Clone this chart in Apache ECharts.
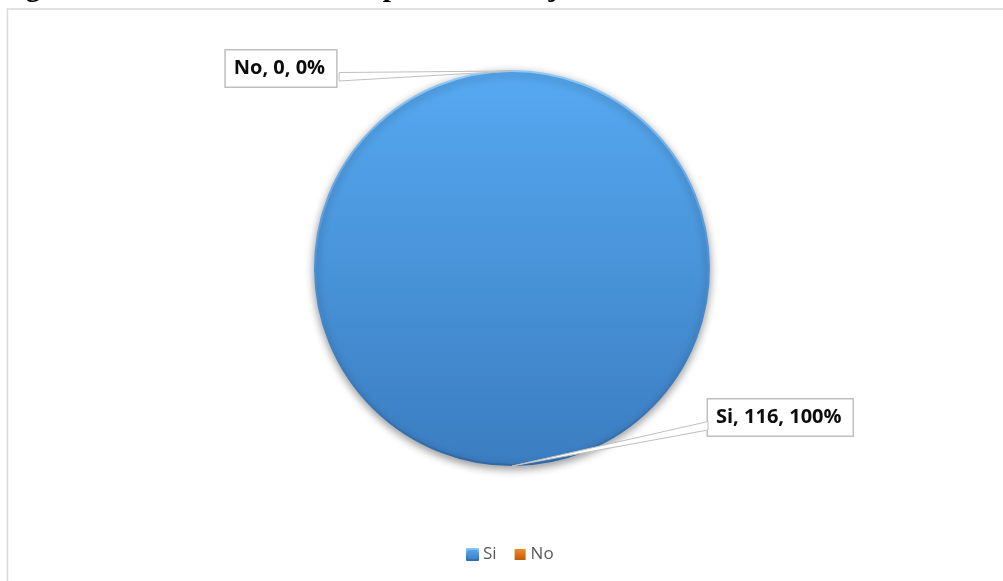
<!DOCTYPE html>
<html>
<head>
<meta charset="utf-8">
<script src="https://cdn.jsdelivr.net/npm/echarts@6/dist/echarts.min.js"></script>
<style>
  html, body { margin: 0; padding: 0; background: #ffffff; }
  #chart { width: 1003px; height: 581px; }
</style>
</head>
<body>
<div id="chart"></div>
<script>
// Caption printed above the chart frame
const captionText = 'Figura 10. Informe final de un plan de manejo de aceites lubricantes usados.';

// Answers and their counts
const categories = ['Si', 'No'];
const counts = [116, 0];

// Slice fills (top colour, bottom colour) for each category
const sliceTop = ['#56a9f1', '#f08a2c'];
const sliceBottom = ['#3b7dc1', '#c65a08'];

const pieData = categories.map(function (name, i) {
  const style = {
    color: new echarts.graphic.LinearGradient(0, 0, 0, 1, [
      { offset: 0, color: sliceTop[i] },
      { offset: 1, color: sliceBottom[i] }
    ])
  };
  if (counts[i] > 0) {
    // bevelled rim: light along the top, darker towards the bottom
    style.borderWidth = 2;
    style.borderColor = new echarts.graphic.LinearGradient(0, 0, 0, 1, [
      { offset: 0, color: '#8fcaf7' },
      { offset: 0.5, color: '#4a90d6' },
      { offset: 1, color: '#2f68a6' }
    ]);
  } else {
    style.borderWidth = 0;
  }
  return { name: name, value: counts[i], itemStyle: style };
});

// Leader wedges collected from the label layout, drawn on top of the pie afterwards
const leaderWedges = [];

const frame = {
  id: 'frame',
  type: 'rect',
  silent: true,
  z: -1,
  shape: { x: 7.5, y: 9, width: 1200, height: 800 },
  style: { fill: 'none', stroke: '#d9d9d9', lineWidth: 1.5 }
};

const chart = echarts.init(document.getElementById('chart'), null, { renderer: 'canvas' });

chart.setOption({
  animation: false,
  backgroundColor: '#ffffff',
  title: {
    text: captionText,
    left: 0,
    top: -26,
    padding: 0,
    textStyle: {
      fontFamily: '"Liberation Serif", "DejaVu Serif", serif',
      fontSize: 29,
      fontWeight: 'bold',
      color: '#000000'
    }
  },
  graphic: [frame],
  legend: {
    data: categories,
    left: 461,
    top: 541,
    icon: 'rect',
    itemWidth: 11,
    itemHeight: 11,
    itemGap: 18,
    textStyle: {
      fontFamily: '"Open Sans", "Noto Sans", sans-serif',
      fontSize: 17,
      color: '#595959'
    }
  },
  series: [
    {
      type: 'pie',
      center: [512, 268],
      radius: 197,
      startAngle: 90.5,
      clockwise: true,
      avoidLabelOverlap: false,
      data: pieData,
      itemStyle: {
        shadowColor: 'rgba(0, 0, 0, 0.4)',
        shadowBlur: 8,
        shadowOffsetY: 3
      },
      emphasis: { disabled: true },
      label: {
        show: true,
        position: 'outside',
        formatter: '{b}, {c}, {d}%',
        fontFamily: '"Open Sans", "Noto Sans", sans-serif',
        fontSize: 20,
        fontWeight: 'bold',
        lineHeight: 26,
        color: '#0d0d0d',
        backgroundColor: '#ffffff',
        borderColor: '#bfbfbf',
        borderWidth: 1.5,
        padding: [5, 11, 5, 8]
      },
      labelLine: { show: false },
      // Callout boxes sit beside the pie; each leader is a thin wedge from the rim to its box
      labelLayout: function (p) {
        const r = p.rect;
        const w = p.labelRect.width;
        const midX = r.x + r.width / 2;
        let a, x, y, edgeX;
        if (r.width > 10) {
          // the full sector: anchor at its lowest rim point, box to the lower right
          a = [midX, r.y + r.height];
          x = a[0] + 196;
          y = a[1] - 48.5;
          edgeX = x;
        } else {
          // the empty sector: anchor at the top rim point, box to the upper left
          a = [midX, r.y];
          edgeX = a[0] - 172;
          x = edgeX - w;
          y = a[1] - 2.5;
        }
        leaderWedges[p.dataIndex] = [a, [edgeX, y + 4], [edgeX, y + 12.5]];
        return { x: x, y: y, align: 'left', verticalAlign: 'middle' };
      }
    }
  ]
});

chart.setOption({
  graphic: [frame].concat(leaderWedges.filter(Boolean).map(function (pts, i) {
    return {
      id: 'leader' + i,
      type: 'polygon',
      silent: true,
      z: 20,
      shape: { points: pts },
      style: { fill: '#ffffff', stroke: '#bfbfbf', lineWidth: 1 }
    };
  }))
});
</script>
</body>
</html>
